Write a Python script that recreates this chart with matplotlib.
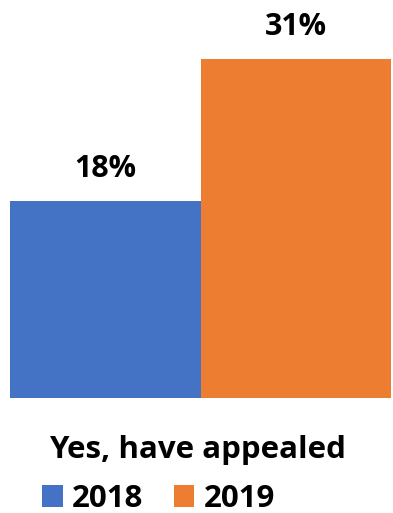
import matplotlib.pyplot as plt

categories = ['Yes, have appealed']
years = ['2018', '2019']
values = [18, 31]
labels = ['18%', '31%']
colors = ['#4472C4', '#ED7D31']

W, H = 393, 513
plt.rcParams['font.family'] = ['Open Sans', 'DejaVu Sans']
plt.rcParams['font.weight'] = 'bold'

fig = plt.figure(figsize=(W / 100, H / 100), dpi=100)
ax = fig.add_axes([10 / W, (H - 398) / H, 381 / W, 398 / H])

bars = []
for i, (yr, v, c) in enumerate(zip(years, values, colors)):
    b = ax.bar(i, v, width=1.0, color=c, label=yr)
    bars.append(b)
    ax.text(i, v + 2.15, labels[i], ha='center', va='baseline', fontsize=22, fontweight='bold')

ax.set_xlim(-0.5, 1.5)
ax.set_ylim(0, 398 / 10.95)
ax.axis('off')

fig.text(197 / W, (H - 458) / H, categories[0], ha='center', va='baseline', fontsize=22.5, fontweight='bold')

fig.legend(handles=[b[0] for b in bars], labels=years, loc='center',
           bbox_to_anchor=(158.5 / W, (H - 499) / H), ncol=2, frameon=False,
           prop={'size': 22.5, 'weight': 'bold'}, handlelength=0.67, handleheight=0.67,
           handletextpad=0.29, columnspacing=0.96, borderaxespad=0, borderpad=0)

fig.savefig('out.png', dpi=100)
